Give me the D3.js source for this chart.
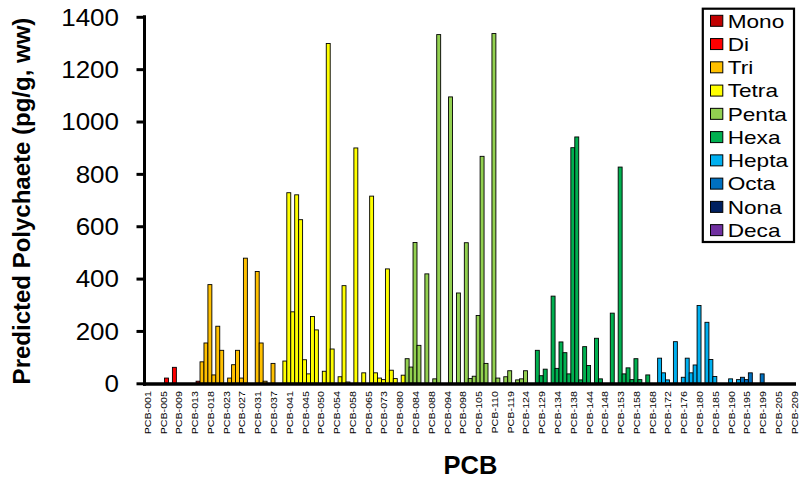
<!DOCTYPE html>
<html>
<head>
<meta charset="utf-8">
<script src="https://cdn.jsdelivr.net/npm/d3@7"></script>
<style>
  html, body { margin: 0; padding: 0; background: #fff; }
  svg { display: block; font-family: "Liberation Sans", Arial, Helvetica, sans-serif; }
</style>
</head>
<body>
<svg id="chart" width="802" height="484"></svg>
<script>
// Congener numbers reported (co-eluting congeners listed under the lowest number)
const congenerNumbers = [
  1, 2, 3, 4, 5, 6, 7, 8, 9, 10, 11, 12, 13, 15, 16, 17, 18, 19, 20, 22,
  23, 24, 25, 26, 27, 28, 29, 30, 31, 32, 34, 35, 37, 38, 39, 40, 41, 42, 43, 44,
  45, 46, 47, 49, 50, 51, 52, 53, 54, 55, 56, 57, 58, 59, 60, 63, 65, 66, 67, 70,
  73, 74, 77, 78, 80, 81, 82, 83, 84, 85, 86, 87, 88, 89, 90, 92, 94, 95, 96, 97,
  98, 99, 101, 104, 105, 106, 107, 109, 110, 111, 114, 118, 119, 120, 121, 122, 124, 126, 127, 128,
  129, 130, 131, 132, 134, 135, 136, 137, 138, 139, 141, 142, 144, 145, 146, 147, 148, 149, 150, 151,
  153, 154, 155, 156, 158, 159, 161, 167, 168, 169, 170, 171, 172, 173, 174, 175, 176, 177, 178, 179,
  180, 181, 182, 183, 185, 186, 187, 189, 190, 191, 193, 194, 195, 196, 197, 198, 199, 200, 201, 203,
  205, 206, 207, 208, 209
];

// Predicted polychaete concentration, pg/g wet weight, one value per congener above
const concentrations = [
  0, 0, 0, 0, 0, 20, 0, 61, 0, 0, 0, 0, 0, 8, 82, 154, 377, 32, 218, 126,
  0, 20, 71, 126, 20, 478, 0, 0, 427, 154, 8, 0, 76, 0, 0, 85, 728, 273, 720, 625,
  90, 36, 255, 204, 0, 46, 1298, 131, 0, 25, 373, 5, 0, 899, 0, 40, 0, 715, 40, 20,
  14, 437, 50, 18, 0, 31, 94, 62, 538, 145, 0, 418, 0, 17, 1332, 0, 0, 1094, 0, 345,
  0, 537, 18, 27, 259, 867, 76, 0, 1336, 20, 0, 25, 48, 0, 13, 17, 48, 0, 0, 126,
  29, 54, 0, 333, 57, 158, 117, 36, 900, 941, 13, 140, 68, 0, 172, 17, 0, 0, 268, 0,
  826, 36, 59, 14, 94, 14, 0, 32, 0, 0, 96, 40, 13, 0, 159, 0, 23, 96, 40, 70,
  297, 0, 233, 91, 26, 0, 0, 0, 17, 0, 14, 23, 14, 40, 0, 0, 36, 0, 0, 0,
  0, 0, 0, 0, 0
];

// Homolog groups: name, first congener number of the group, fill colour
const homologNames  = ["Mono", "Di", "Tri", "Tetra", "Penta", "Hexa", "Hepta", "Octa", "Nona", "Deca"];
const homologFirst  = [1, 4, 16, 40, 82, 128, 170, 194, 206, 209];
const homologColors = ["#C00000", "#FF0000", "#FFC000", "#FFFF00", "#92D050",
                       "#00B050", "#00B0F0", "#0070C0", "#002060", "#7030A0"];

const yTicks = [0, 200, 400, 600, 800, 1000, 1200, 1400];

const congeners = congenerNumbers.map(n => "PCB-" + String(n).padStart(3, "0"));
const rows = congeners.map((name, i) => ({
  name,
  number: congenerNumbers[i],
  value: concentrations[i],
  group: d3.bisectRight(homologFirst, congenerNumbers[i]) - 1
}));

const svg = d3.select("#chart");

const x = d3.scaleBand().domain(congeners).range([144.8, 795.7]).padding(0);
const y = d3.scaleLinear().domain([0, 1400]).range([383.3, 16.8]);

// Bars
svg.append("g")
  .selectAll("rect")
  .data(rows.filter(d => d.value > 0))
  .join("rect")
  .attr("x", d => x(d.name))
  .attr("width", x.bandwidth())
  .attr("y", d => y(d.value))
  .attr("height", d => y(0) - y(d.value))
  .attr("fill", d => homologColors[d.group])
  .attr("stroke", "#000")
  .attr("stroke-width", 0.9);

// Y axis
const yAxis = svg.append("g")
  .attr("transform", "translate(144.5,0)")
  .call(d3.axisLeft(y).tickValues(yTicks).tickSize(8).tickSizeOuter(0).tickFormat(d3.format("d")));
yAxis.select(".domain").attr("stroke", "#000").attr("stroke-width", 3)
  .attr("d", `M0,${y(1400) - 1.5}V${y(0) + 2.5}`);
yAxis.selectAll(".tick line").attr("stroke", "#000").attr("stroke-width", 3);
yAxis.selectAll(".tick text")
  .attr("x", null).attr("dy", null)
  .attr("transform", "translate(-25.5,8.3) scale(1.13,1)")
  .attr("text-anchor", "end")
  .attr("fill", "#000")
  .style("font-size", "23px")
  .style("font-family", "'Liberation Sans', Arial, sans-serif");

// X axis (every fourth congener labelled)
const xAxis = svg.append("g")
  .attr("transform", "translate(0,384)")
  .call(d3.axisBottom(x).tickValues(congeners.filter((d, i) => i % 4 === 0)).tickSize(0).tickSizeOuter(0));
xAxis.select(".domain").attr("stroke", "#000").attr("stroke-width", 3.5)
  .attr("d", `M143,0H796`);
xAxis.selectAll(".tick text")
  .attr("y", null).attr("dy", null)
  .attr("transform", "translate(4,7) rotate(-90) scale(1,0.78)")
  .attr("text-anchor", "end")
  .attr("fill", "#000")
  .style("font-size", "10.7px")
  .style("font-family", "'Liberation Sans', Arial, sans-serif");

// Axis titles
svg.append("text")
  .attr("transform", "translate(30,201) rotate(-90)")
  .attr("text-anchor", "middle")
  .style("font-size", "24px")
  .style("font-weight", "bold")
  .text("Predicted Polychaete (pg/g, ww)");

svg.append("text")
  .attr("x", 470.5)
  .attr("y", 474.3)
  .attr("text-anchor", "middle")
  .style("font-size", "25.5px")
  .style("font-weight", "bold")
  .text("PCB");

// Legend
const legend = svg.append("g");
legend.append("rect")
  .attr("x", 702.8).attr("y", 8.7)
  .attr("width", 91.2).attr("height", 233.3)
  .attr("fill", "#fff").attr("stroke", "#000").attr("stroke-width", 2.2);

const item = legend.selectAll("g.item")
  .data(homologNames)
  .join("g")
  .attr("class", "item")
  .attr("transform", (d, i) => `translate(0,${20.8 + 23.26 * i})`);

item.append("rect")
  .attr("x", 710.5).attr("y", -5.5)
  .attr("width", 12.3).attr("height", 11)
  .attr("fill", (d, i) => homologColors[i])
  .attr("stroke", "#000").attr("stroke-width", 1);

item.append("text")
  .attr("transform", "translate(727.7,6.7) scale(1.19,1)")
  .style("font-size", "19px")
  .attr("fill", "#000")
  .text(d => d);
</script>
</body>
</html>
